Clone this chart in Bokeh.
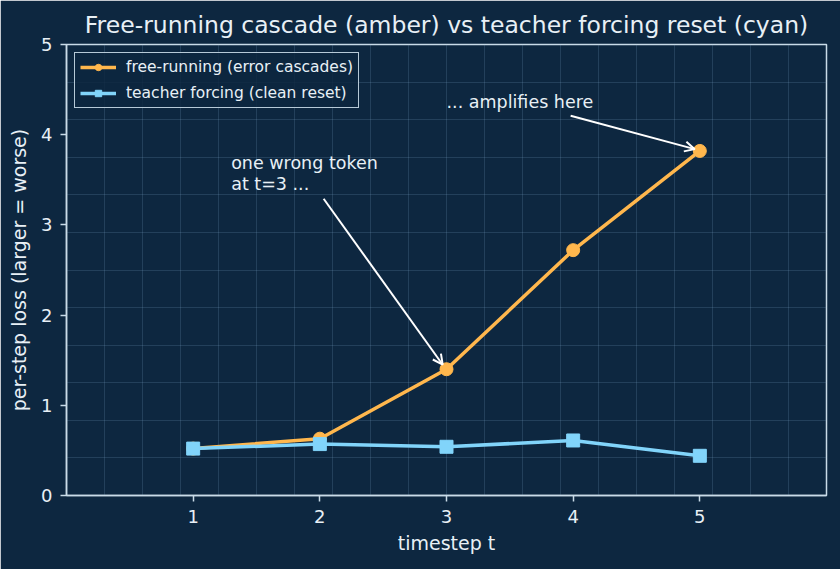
from bokeh.plotting import figure
from bokeh.models import FixedTicker, Label, Arrow, OpenHead, Range1d
from bokeh.embed import file_html
from bokeh.resources import INLINE

# ---- data ----
timesteps = [1, 2, 3, 4, 5]
free_running = [0.52, 0.63, 1.40, 2.72, 3.82]
teacher_forcing = [0.52, 0.57, 0.54, 0.61, 0.44]
x_ticks = [1, 2, 3, 4, 5]
y_ticks = [0, 1, 2, 3, 4, 5]

title_text = "Free-running cascade (amber) vs teacher forcing reset (cyan)"
label_free = "free-running (error cascades)"
label_teacher = "teacher forcing (clean reset)"

# ---- style ----
BG = "#0d2740"
AMBER = "#ffb74d"
CYAN = "#81d4fa"
SPINE = "#c9dbe8"
TEXT = "#e8f0f6"
FONT = "DejaVu Sans"

p = figure(
    frame_width=760, frame_height=451,
    min_border_left=66, min_border_right=14, min_border_top=44, min_border_bottom=74,
    x_range=Range1d(0, 6), y_range=Range1d(0, 5),
    output_backend="svg", toolbar_location=None,
    background_fill_color=BG, border_fill_color=BG,
    title=title_text,
)

p.title.text_font = FONT
p.title.text_font_size = "23.5px"
p.title.text_font_style = "normal"
p.title.text_color = TEXT
p.title.align = "center"
p.title.standoff = 12

p.outline_line_color = SPINE
p.outline_line_width = 1.5
p.outline_line_alpha = 1.0

for ax in (p.xaxis[0], p.yaxis[0]):
    ax.axis_line_color = SPINE
    ax.axis_line_width = 1.5
    ax.major_tick_line_color = SPINE
    ax.major_tick_line_width = 1.5
    ax.major_tick_out = 6
    ax.major_tick_in = 0
    ax.minor_tick_line_color = None
    ax.major_label_text_font = FONT
    ax.major_label_text_font_size = "18px"
    ax.major_label_text_color = TEXT
    ax.axis_label_text_font = FONT
    ax.axis_label_text_font_size = "19px"
    ax.axis_label_text_font_style = "normal"
    ax.axis_label_text_color = TEXT

p.xaxis.ticker = FixedTicker(ticks=x_ticks)
p.yaxis.ticker = FixedTicker(ticks=y_ticks)
p.xaxis.axis_label = "timestep t"
p.yaxis.axis_label = "per-step loss (larger = worse)"
p.xaxis.major_label_standoff = 8
p.yaxis.major_label_standoff = 8
p.xaxis.axis_label_standoff = 6
p.yaxis.axis_label_standoff = 8

# faint blueprint grid
p.xgrid.ticker = FixedTicker(ticks=[0.3 * i for i in range(1, 20)])
p.ygrid.ticker = FixedTicker(ticks=[5.0 / 12 * i for i in range(1, 12)])
for g in (p.xgrid[0], p.ygrid[0]):
    g.grid_line_color = "#7fa6c8"
    g.grid_line_alpha = 0.2
    g.grid_line_width = 1

# series
p.line(timesteps, free_running, line_color=AMBER, line_width=3.5, legend_label=label_free)
p.scatter(timesteps, free_running, marker="circle", size=13, fill_color=AMBER,
          line_color=AMBER, legend_label=label_free)
p.line(timesteps, teacher_forcing, line_color=CYAN, line_width=3.5, legend_label=label_teacher)
p.scatter(timesteps, teacher_forcing, marker="square", size=13, fill_color=CYAN,
          line_color=CYAN, legend_label=label_teacher)

# annotations
p.add_layout(Label(x=1.30, y=3.69, text="one wrong token", text_font=FONT,
                   text_font_size="17.5px", text_color=TEXT, text_baseline="middle"))
p.add_layout(Label(x=1.30, y=3.45, text="at t=3 ...", text_font=FONT,
                   text_font_size="17.5px", text_color=TEXT, text_baseline="middle"))
p.add_layout(Label(x=3.0, y=4.36, text="... amplifies here", text_font=FONT,
                   text_font_size="17.5px", text_color=TEXT, text_baseline="middle"))

p.add_layout(Arrow(end=OpenHead(size=10, line_color="white", line_width=2),
                   x_start=2.03, y_start=3.29,
                   x_end=timesteps[2] - 0.03, y_end=free_running[2] + 0.05,
                   line_color="white", line_width=2))
p.add_layout(Arrow(end=OpenHead(size=10, line_color="white", line_width=2),
                   x_start=3.98, y_start=4.21,
                   x_end=timesteps[4] - 0.04, y_end=free_running[4] + 0.02,
                   line_color="white", line_width=2))

# legend
lg = p.legend[0]
lg.location = "top_left"
lg.margin = 8
lg.padding = 5
lg.spacing = 8
lg.glyph_width = 36
lg.glyph_height = 16
lg.label_height = 16
lg.label_standoff = 10
lg.label_text_font = FONT
lg.label_text_font_size = "15.5px"
lg.label_text_color = TEXT
lg.background_fill_color = BG
lg.background_fill_alpha = 0.85
lg.border_line_color = SPINE
lg.border_line_width = 1.2
lg.border_line_alpha = 0.9

open("out.html", "w").write(file_html(p, INLINE))
